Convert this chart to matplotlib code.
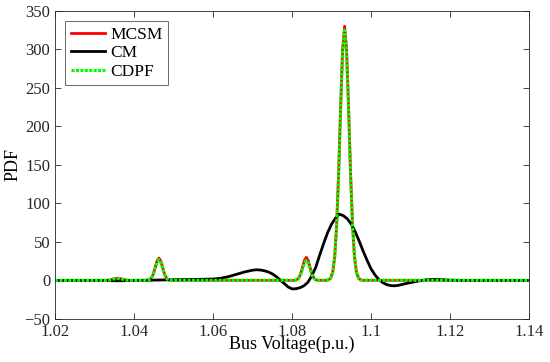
import matplotlib
matplotlib.use("Agg")
import matplotlib.pyplot as plt

# Datos (tension de bus en p.u.)
x_mc = [1.020, 1.033, 1.034, 1.035, 1.036, 1.037, 1.038, 1.039,
        1.0433, 1.0438, 1.0443, 1.0448, 1.0453, 1.0458, 1.0463, 1.0468, 1.0473,
        1.0478, 1.0483, 1.0488, 1.0493,
        1.0806, 1.0811, 1.0816, 1.0821, 1.0826, 1.0831, 1.0836, 1.0841,
        1.0846, 1.0851, 1.0856, 1.0861, 1.0866,
        1.0888, 1.0893, 1.0898, 1.0903, 1.0908, 1.0913, 1.0918, 1.0923, 1.0928,
        1.0933, 1.0938, 1.0943, 1.0948, 1.0953, 1.0958, 1.0963, 1.0968, 1.0973,
        1.0978, 1.140]
y_mcsm = [0, 0, 0.6, 2.2, 3.0, 1.8, 0.4, 0,
          0.1, 0.6, 2.5, 7.2, 15.7, 24.9, 29.0, 24.9, 15.7,
          7.2, 2.5, 0.6, 0.1,
          0.1, 0.6, 2.6, 7.5, 16.2, 25.7, 30.0, 25.7,
          16.2, 7.5, 2.6, 0.6, 0.1,
          0.15, 0.8, 3.2, 11, 31, 73, 141, 226, 300,
          330, 300, 226, 141, 73, 31, 11, 3.2, 0.8,
          0.15, 0]
y_cdpf = [0, 0, 0.5, 2.0, 2.7, 1.6, 0.3, 0,
          0.1, 0.6, 2.3, 6.7, 14.6, 23.1, 27.0, 23.1, 14.6,
          6.7, 2.3, 0.6, 0.1,
          0.1, 0.5, 2.2, 6.5, 14.0, 22.3, 26.0, 22.3,
          14.0, 6.5, 2.2, 0.5, 0.1,
          0.15, 0.8, 3.2, 10.8, 30.5, 72, 139, 223, 296,
          325, 296, 223, 139, 72, 30.5, 10.8, 3.2, 0.8,
          0.15, 0]

x_cm = [1.020, 1.032, 1.034, 1.036, 1.038, 1.040, 1.044, 1.048, 1.052, 1.056,
        1.060, 1.062, 1.064, 1.066, 1.068, 1.070, 1.071, 1.072, 1.073, 1.074,
        1.075, 1.076, 1.077, 1.078, 1.079, 1.080, 1.081, 1.082, 1.083, 1.084,
        1.085, 1.086, 1.087, 1.088, 1.089, 1.090, 1.091, 1.092, 1.093, 1.094,
        1.095, 1.096, 1.097, 1.098, 1.099, 1.100, 1.101, 1.102, 1.103, 1.104,
        1.105, 1.106, 1.107, 1.108, 1.110, 1.112, 1.114, 1.116, 1.118, 1.120,
        1.123, 1.140]
y_cm = [0, 0, -0.3, -0.5, -0.2, 0, 0.3, 0.7, 1.0, 1.3,
        1.8, 2.8, 5.0, 8.0, 11.0, 13.3, 13.8, 13.5, 12.5, 11.0,
        8.5, 5.0, 0.5, -4.0, -8.5, -11.0, -10.8, -9.5, -7.0, -2.5,
        6.0, 17.0, 33.0, 48.0, 62.0, 73.0, 81.0, 86.0, 84.0, 80.0,
        73.0, 63.0, 51.0, 38.0, 26.0, 15.0, 7.0, 1.0, -3.0, -5.5,
        -6.8, -7.0, -6.3, -5.0, -2.8, -0.8, 0.8, 1.3, 0.9, 0.3,
        0, 0]

xticks = [1.02, 1.04, 1.06, 1.08, 1.1, 1.12, 1.14]
xtick_labels = ['1.02', '1.04', '1.06', '1.08', '1.1', '1.12', '1.14']
yticks = [-50, 0, 50, 100, 150, 200, 250, 300, 350]

plt.rcParams['font.family'] = ['Liberation Serif', 'DejaVu Serif']

fig = plt.figure(figsize=(5.5, 3.62), dpi=100)
ax = fig.add_axes([0.1, 0.119, 0.862, 0.851])

ax.plot(x_mc, y_mcsm, color=(1, 0, 0), linewidth=2.0, label='MCSM')
ax.plot(x_cm, y_cm, color='black', linewidth=2.0, label='CM')
ax.plot(x_mc, y_cdpf, color=(0, 1, 0), linewidth=2.2, dashes=(1.0, 0.45),
        label='CDPF')

ax.set_xlim(1.02, 1.14)
ax.set_ylim(-50, 350)
ax.set_xticks(xticks)
ax.set_xticklabels(xtick_labels)
ax.set_yticks(yticks)
ax.tick_params(direction='in', top=True, right=True, labelsize=12,
               colors='#262626', length=4, width=0.6)
for s in ax.spines.values():
    s.set_color('#262626')
    s.set_linewidth(0.6)

ax.set_xlabel('Bus Voltage(p.u.)', fontsize=13, labelpad=-3)
ax.set_ylabel('PDF', fontsize=13, labelpad=2)

leg = ax.legend(loc='upper left', fontsize=12.5, frameon=True, fancybox=False,
                edgecolor='#262626', handlelength=2.0, borderaxespad=0.6,
                labelspacing=0.15, handletextpad=0.3, borderpad=0.3)
leg.get_frame().set_linewidth(0.6)

fig.savefig('out.png', dpi=100)
